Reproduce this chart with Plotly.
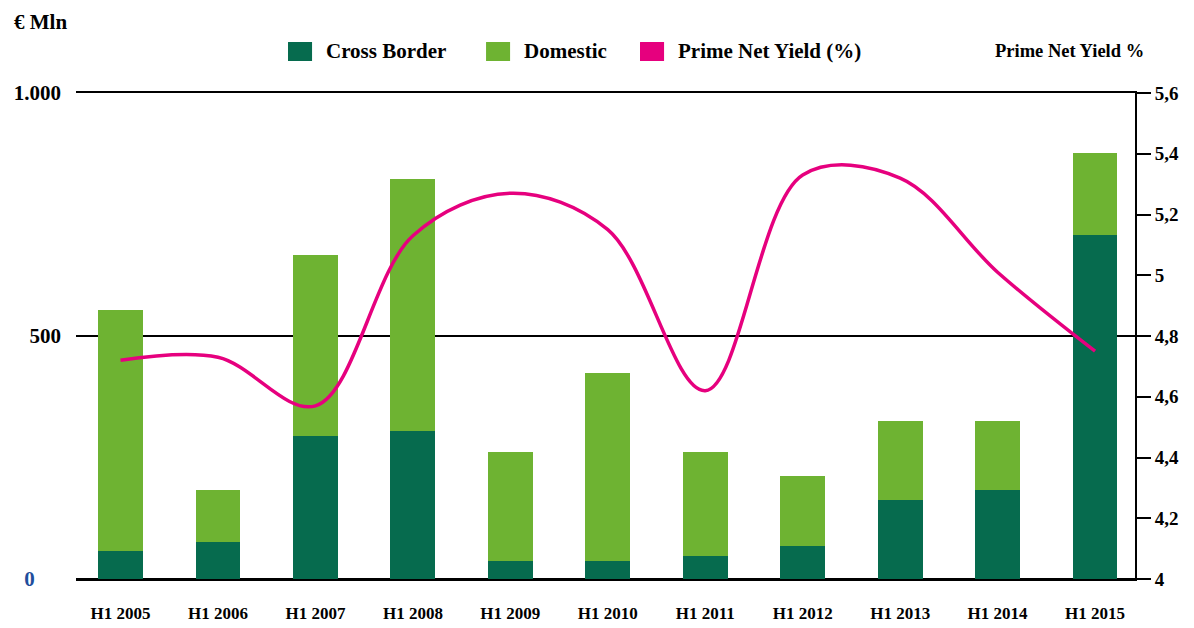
import plotly.graph_objects as go

categories = ["H1 2005", "H1 2006", "H1 2007", "H1 2008", "H1 2009", "H1 2010",
              "H1 2011", "H1 2012", "H1 2013", "H1 2014", "H1 2015"]
cross_border = [58, 76, 294, 305, 37, 37, 47, 68, 163, 183, 708]
domestic = [495, 107, 373, 518, 224, 387, 214, 144, 162, 142, 169]
prime_yield = [4.72, 4.73, 4.57, 5.13, 5.27, 5.15, 4.62, 5.33, 5.32, 5.01, 4.75]

left_ticks = [0, 500, 1000]
left_labels = ["<span style='color:#1f4e9c'>0</span>" + "\u00a0" * 5, "500", "1.000"]
right_ticks = [4, 4.2, 4.4, 4.6, 4.8, 5, 5.2, 5.4, 5.6]
right_labels = ["4", "4,2", "4,4", "4,6", "4,8", "5", "5,2", "5,4", "5,6"]

DARK = "#066b4e"
LIGHT = "#6eb332"
PINK = "#e6007e"
FONT = "Liberation Serif"

fig = go.Figure()
fig.add_trace(go.Bar(x=categories, y=cross_border, name="Cross Border",
                     marker=dict(color=DARK, line=dict(width=0)), width=0.46))
fig.add_trace(go.Bar(x=categories, y=domestic, name="Domestic",
                     marker=dict(color=LIGHT, line=dict(width=0)), width=0.46))
fig.add_trace(go.Scatter(x=categories, y=prime_yield, name="Prime Net Yield (%)",
                         yaxis="y2", mode="lines",
                         line=dict(color=PINK, width=3.5, shape="spline", smoothing=1)))

fig.update_layout(
    width=1194, height=628,
    margin=dict(l=76, r=59, t=93, b=49),
    barmode="stack",
    plot_bgcolor="white", paper_bgcolor="white",
    showlegend=False,
    font=dict(family=FONT, size=18, color="black"),
    xaxis=dict(range=[-0.457, 10.41], showgrid=False, automargin=False,
               showline=True, mirror=True, linecolor="black", linewidth=2, ticks="",
               tickfont=dict(family=FONT, size=17, color="black", weight="bold"),
               ticklabelstandoff=18),
    yaxis=dict(range=[0, 1000], tickvals=left_ticks, ticktext=left_labels,
               showgrid=True, gridcolor="black", gridwidth=2, automargin=False,
               zeroline=True, zerolinecolor="black", zerolinewidth=2,
               ticks="", showline=False, ticklabelstandoff=14,
               tickfont=dict(family=FONT, size=21, color="black", weight="bold")),
    yaxis2=dict(range=[4, 5.6], overlaying="y", side="right", automargin=False,
                tickvals=right_ticks, ticktext=right_labels,
                showgrid=False, zeroline=False,
                showline=True, linecolor="black", linewidth=2,
                ticks="outside", ticklen=14, tickwidth=2, tickcolor="black",
                tickfont=dict(family=FONT, size=19, color="black", weight="bold")),
)

# manual legend with large square keys
legend_items = [("Cross Border", DARK, 0.2002), ("Domestic", LIGHT, 0.3872),
                ("Prime Net Yield (%)", PINK, 0.5326)]
for label, color, x0 in legend_items:
    fig.add_shape(type="rect", xref="paper", yref="paper",
                  x0=x0, x1=x0 + 0.0227, y0=1.0658, y1=1.1049,
                  fillcolor=color, line=dict(width=0))
    fig.add_annotation(text="<b>" + label + "</b>", xref="paper", yref="paper",
                       x=x0 + 0.034, y=1.0854, xanchor="left", yanchor="middle",
                       showarrow=False, font=dict(family=FONT, size=21, color="black"))

fig.add_annotation(text="<b>€ Mln</b>", xref="paper", yref="paper",
                   x=-0.0604, y=1.146, xanchor="left", yanchor="middle",
                   showarrow=False, font=dict(family=FONT, size=21, color="black"))
fig.add_annotation(text="<b>Prime Net Yield %</b>", xref="paper", yref="paper",
                   x=1.0104, y=1.0864, xanchor="right", yanchor="middle",
                   showarrow=False, font=dict(family=FONT, size=18.5, color="black"))

# page body has a default 8px margin, drop it so the figure sits at the corner
fig.write_html("out.html", config={"displayModeBar": False},
               post_script="document.body.style.margin='0';")
